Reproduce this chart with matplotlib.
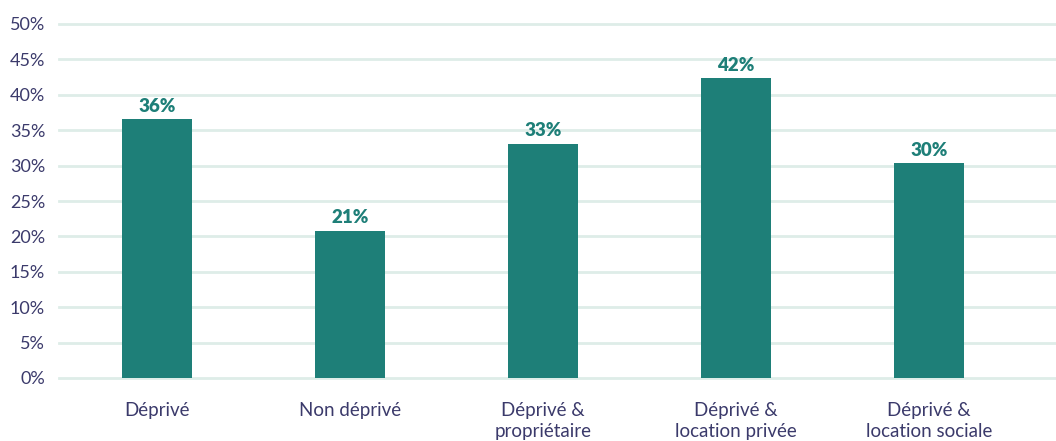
import matplotlib
matplotlib.use("Agg")
import matplotlib.pyplot as plt

categories = ["Déprivé", "Non déprivé", "Déprivé &\npropriétaire",
              "Déprivé &\nlocation privée", "Déprivé &\nlocation sociale"]
values = [36.6, 20.8, 33.1, 42.4, 30.4]
value_labels = ["36%", "21%", "33%", "42%", "30%"]
yticks = [0, 5, 10, 15, 20, 25, 30, 35, 40, 45, 50]
ytick_labels = [f"{t}%" for t in yticks]

bar_color = "#1e7f78"
grid_color = "#deede8"
text_color = "#3b3a6b"

plt.rcParams['font.family'] = ['Lato', 'DejaVu Sans']

fig = plt.figure(figsize=(10.56, 4.41), dpi=100)
ax = fig.add_axes([59/1056, 63/441, 997/1056, 354/441])

x = list(range(len(categories)))
ax.bar(x, values, width=0.363, color=bar_color, zorder=3)
for xi, v, lab in zip(x, values, value_labels):
    ax.text(xi, v + 0.6, lab, ha="center", va="bottom", fontsize=13.5,
            fontweight="heavy", color=bar_color, zorder=4)

ax.set_ylim(0, 50)
ax.set_xlim(-0.508, 4.658)
ax.set_yticks(yticks)
ax.set_yticklabels(ytick_labels)
ax.set_xticks(x)
ax.set_xticklabels(categories, linespacing=1.3)
for t in yticks:
    ax.axhline(t, color=grid_color, lw=2.0, zorder=1, clip_on=False)

for s in ax.spines.values():
    s.set_visible(False)
ax.tick_params(axis="y", length=0, pad=10, labelsize=13, labelcolor=text_color)
ax.tick_params(axis="x", length=0, pad=17, labelsize=13.5, labelcolor=text_color)

fig.savefig("out.png", dpi=100)
